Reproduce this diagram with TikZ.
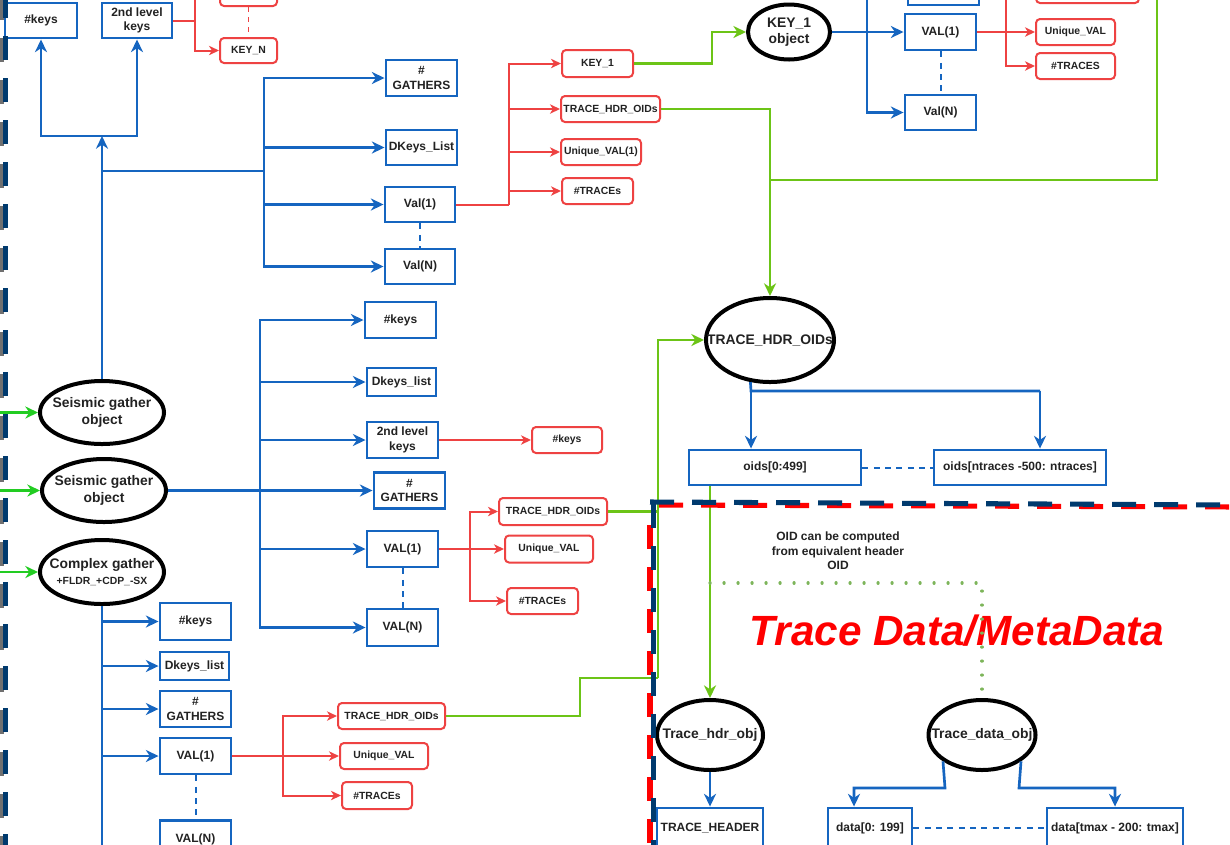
\documentclass[tikz,border=0pt]{standalone}
\usepackage{fontspec}
\setmainfont{Liberation Sans}
\usetikzlibrary{shapes.geometric,arrows.meta}
\definecolor{cblue}{HTML}{1565C0}
\definecolor{cred}{HTML}{EE4242}
\definecolor{cgreen}{HTML}{6CC417}
\definecolor{cgreenL}{HTML}{22CC22}
\definecolor{cdot}{HTML}{7DB55A}
\definecolor{cnavy}{HTML}{003A6E}
\definecolor{ctext}{HTML}{222222}
\definecolor{cshadow}{HTML}{707070}

\tikzset{
  sz/.style 2 args={minimum width={#1*0.75pt},minimum height={#2*0.75pt}},
  bbox/.style={draw=cblue,line width=2.2pt,fill=white,inner sep=0pt,align=center,text=ctext},
  rbox/.style={draw=cred,line width=1.5pt,rounded corners=3pt,fill=white,inner sep=0pt,align=center,text=ctext,
    font=\fontsize{7.8}{9.4}\selectfont\bfseries},
  ell/.style={draw=black,line width=3pt,ellipse,fill=white,inner sep=0pt},
  etxt/.style={align=center,text=ctext,inner sep=0pt,font=\fontsize{10.4}{12.5}\selectfont\bfseries},
  bline/.style={draw=cblue,line width=2pt},
  barr/.style={bline,-{Stealth[length=9.5pt,width=9pt,inset=3pt]}},
  bdash/.style={draw=cblue,line width=1.5pt,dash pattern=on 4.5pt off 4pt},
  rline/.style={draw=cred,line width=1.5pt},
  rarr/.style={rline,-{Stealth[length=7.5pt,width=7pt,inset=2.2pt]}},
  rdash/.style={draw=cred,line width=1.3pt,dash pattern=on 4pt off 3.5pt},
  gline/.style={draw=cgreen,line width=2.1pt},
  garr/.style={gline,-{Stealth[length=9.5pt,width=9pt,inset=3pt]}},
  garrL/.style={draw=cgreenL,line width=2.1pt,-{Stealth[length=9.5pt,width=9pt,inset=3pt]}},
  gdot/.style={draw=cdot,line width=2.4pt,line cap=round,dash pattern=on 0.1pt off 10.4pt},
  navydash/.style={draw=cnavy,line width=3.8pt,dash pattern=on 18pt off 13.5pt},
  reddash/.style={draw=red,line width=3.8pt,dash pattern=on 18pt off 13.5pt},
}

\begin{document}
\begin{tikzpicture}[x=0.75pt,y=-0.75pt,font=\fontsize{9}{10.8}\selectfont\bfseries]
\useasboundingbox (0,0) rectangle (1230,844);
\fill[white] (0,0) rectangle (1230,844);
\clip (0,0) rectangle (1230,844);

% ---------- upper-left: keys of the first gather ----------
\node[bbox,sz={72}{35}] (k1) at (41,20.5) {\#keys};
\node[bbox,sz={70}{35}] (k2) at (137,20.5) {2nd level\\keys};
\node[rbox,sz={57}{31}] (rtop) at (248.5,-9.5) {};
\node[rbox,sz={57}{25}] (keyN) at (248.5,50.5) {KEY\_N};

\node[bbox,sz={71}{36}] (gat1) at (421.5,78) {\#\\GATHERS};
\node[bbox,sz={71}{35}] (dkl) at (421.5,147.5) {DKeys\_List};
\node[bbox,sz={70}{35}] (val1a) at (420,204.5) {Val(1)};
\node[bbox,sz={70}{35}] (valNa) at (420,266.5) {Val(N)};

\node[rbox,sz={71}{27}] (key1) at (597.5,63.5) {KEY\_1};
\node[rbox,sz={99}{26}] (tho1) at (610.5,109) {TRACE\_HDR\_OIDs};
\node[rbox,sz={80}{26}] (uv1) at (601,152) {Unique\_VAL(1)};
\node[rbox,sz={71}{26}] (tr1) at (597.5,191) {\#TRACEs};

% ---------- KEY_1 object ----------
\node[ell,sz={82}{55},label={[etxt]center:{KEY\_1\\object}}] (ko) at (789,32) {};
\node[bbox,sz={71}{35}] (tv0) at (943.5,-12.5) {};
\node[bbox,sz={71}{36}] (val1b) at (940.5,32) {VAL(1)};
\node[bbox,sz={71}{35}] (valNb) at (940.5,112.5) {Val(N)};
\node[rbox,sz={103}{28}] (rt0) at (1087.5,-11) {};
\node[rbox,sz={79}{26}] (uvb) at (1075.5,32) {Unique\_VAL};
\node[rbox,sz={79}{26}] (trb) at (1075.5,66) {\#TRACES};

% ---------- trace header OIDs ----------
\node[ell,sz={128}{84},label={[etxt]center:TRACE\_HDR\_OIDs}] (tho) at (770,340) {};
\node[bbox,sz={172}{35}] (oidsA) at (775,467.5) {oids[0:499]};
\node[bbox,sz={172}{35}] (oidsB) at (1020,467.5) {oids[ntraces -500: ntraces]};

% ---------- gather objects ----------
\node[ell,sz={124}{63},label={[etxt]center:{Seismic gather\\object}}] (sg1) at (102,412.5) {};
\node[ell,sz={124}{63},label={[etxt]center:{Seismic gather\\object}}] (sg2) at (104,490.5) {};
\node[ell,sz={124}{64},label={[etxt]center:{Complex gather\\{\fontsize{7.8}{9}\selectfont +FLDR\_+CDP\_-SX}}}] (cg) at (102,572) {};

\node[bbox,sz={71}{36}] (mk) at (400.5,320) {\#keys};
\node[bbox,sz={69}{28}] (mdk) at (401.5,382) {Dkeys\_list};
\node[bbox,sz={71}{36}] (m2k) at (402.5,440) {2nd level\\keys};
\node[bbox,sz={71}{36}] (mgat) at (409.5,490.5) {\#\\GATHERS};
\node[bbox,sz={71}{36}] (mval1) at (402.5,549) {VAL(1)};
\node[bbox,sz={71}{37}] (mvalN) at (402.5,627.5) {VAL(N)};
\node[rbox,sz={70}{26}] (rk) at (567,440) {\#keys};
\node[rbox,sz={108}{27}] (mtho) at (553,511.5) {TRACE\_HDR\_OIDs};
\node[rbox,sz={88}{27}] (muv) at (549,549) {Unique\_VAL};
\node[rbox,sz={71}{26}] (mtr) at (542.5,601) {\#TRACEs};

\node[bbox,sz={71}{37}] (bk) at (195.5,621.5) {\#keys};
\node[bbox,sz={69}{28}] (bdk) at (194.5,666) {Dkeys\_list};
\node[bbox,sz={71}{36}] (bgat) at (195.5,709) {\#\\GATHERS};
\node[bbox,sz={71}{36}] (bval1) at (195.5,756) {VAL(1)};
\node[bbox,sz={71}{37}] (bvalN) at (195.5,839) {VAL(N)};
\node[rbox,sz={107}{26}] (btho) at (391.5,716) {TRACE\_HDR\_OIDs};
\node[rbox,sz={88}{26}] (buv) at (384,756) {Unique\_VAL};
\node[rbox,sz={70}{27}] (btr) at (377,795.5) {\#TRACEs};

% ---------- trace data / metadata ----------
\node[ell,sz={106}{70},label={[etxt]center:Trace\_hdr\_obj}] (thobj) at (710,735) {};
\node[ell,sz={107}{70},label={[etxt]center:Trace\_data\_obj}] (tdobj) at (982,735) {};
\node[bbox,sz={106}{40}] (thdr) at (710,828) {TRACE\_HEADER};
\node[bbox,sz={84}{40}] (d0) at (870,828) {data[0: 199]};
\node[bbox,sz={136}{40}] (d1) at (1115,828) {data[tmax - 200: tmax]};
\node[align=center,text=ctext] (note) at (838,551) {OID can be computed\\from equivalent header\\OID};
\node[text=red,font=\fontsize{31.7}{36}\selectfont\bfseries\itshape] (title) at (957,631) {Trace Data/MetaData};

% ---------- connectors: first gather ----------
\coordinate (j1) at (102,136);
\draw[barr] (sg1.north) -- (j1);
\draw[barr] (j1) -| (k1.south);
\draw[barr] (j1) -| (k2.south);
\coordinate (j2) at (102,171);
\coordinate (j3) at (264,171);
\draw[bline] (j2) -- (j3);
\draw[barr] (j3) |- (gat1.west);
\draw[barr] (j3) |- (dkl.west);
\draw[barr] (j3) |- (val1a.west);
\draw[barr] (j3) |- (valNa.west);
\draw[bdash] (val1a.south) -- (valNa.north);

\coordinate (r1) at (195,20.5);
\draw[rline] (k2.east) -- (r1);
\draw[rarr] (r1) |- (rtop.west);
\draw[rarr] (r1) |- (keyN.west);
\draw[rdash] (rtop.south) -- (keyN.north);

\coordinate (r2) at (509,204.5);
\draw[rline] (val1a.east) -- (r2);
\draw[rarr] (r2) |- (key1.west);
\draw[rarr] (r2) |- (tho1.west);
\draw[rarr] (r2) |- (uv1.west);
\draw[rarr] (r2) |- (tr1.west);

\coordinate (g1) at (712,48);
\draw[garr] (key1.east) -| (g1) |- (ko.west);
\draw[garr] (tho1.east) -| (tho.north);
\coordinate (gtop) at (1157,-10);
\coordinate (g3) at (770,180);
\draw[gline] (gtop) |- (g3);

% ---------- connectors: KEY_1 object ----------
\draw[barr] (ko.east) -- (val1b.west);
\coordinate (b1) at (867,32);
\draw[barr] (b1) |- (tv0.west);
\draw[barr] (b1) |- (valNb.west);
\draw[bdash] (val1b.south) -- (valNb.north);
\coordinate (r3) at (1006,32);
\draw[rarr] (val1b.east) -- (uvb.west);
\draw[rarr] (r3) |- (rt0.west);
\draw[rarr] (r3) |- (trb.west);

% ---------- incoming arrows on the left ----------
\coordinate (lft) at (-10,0);
\draw[garrL] (sg1.west -| lft) -- (sg1.west);
\draw[garrL] (sg2.west -| lft) -- (sg2.west);
\draw[garrL] (cg.west -| lft) -- (cg.west);

% ---------- connectors: second gather ----------
\coordinate (v2) at (260,490.5);
\draw[barr] (sg2.east) -- (mgat.west);
\draw[barr] (v2) |- (mk.west);
\draw[barr] (v2) |- (mdk.west);
\draw[barr] (v2) |- (m2k.west);
\draw[barr] (v2) |- (mval1.west);
\draw[barr] (v2) |- (mvalN.west);
\draw[bdash] (mval1.south) -- (mvalN.north);
\draw[rarr] (m2k.east) -- (rk.west);
\coordinate (r4) at (470,549);
\draw[rarr] (mval1.east) -- (muv.west);
\draw[rarr] (r4) |- (mtho.west);
\draw[rarr] (r4) |- (mtr.west);

% ---------- connectors: complex gather ----------
\coordinate (bbot) at (102,870);
\draw[bline] (cg.south) -- (bbot);
\draw[barr] (cg.south) |- (bk.west);
\draw[barr] (cg.south) |- (bdk.west);
\draw[barr] (cg.south) |- (bgat.west);
\draw[barr] (cg.south) |- (bval1.west);
\draw[bdash] (bval1.south) -- (bvalN.north);
\coordinate (r5) at (283,756);
\draw[rarr] (bval1.east) -- (buv.west);
\draw[rarr] (r5) |- (btho.west);
\draw[rarr] (r5) |- (btr.west);

% ---------- header OIDs feeding the OID object ----------
\coordinate (g5) at (580,678);
\coordinate (g6) at (658,678);
\draw[gline] (btho.east) -| (g5) -- (g6);
\draw[garr] (g6) |- (tho.west);
\draw[gline] (mtho.east) -- (mtho.east -| g6);

\coordinate (t1) at (751,391);
\coordinate (t2) at (1040,391);
\draw[bline] (tho.245) -- (t1) -- (t2);
\draw[barr] (t1) -- (t1 |- oidsA.north);
\draw[barr] (t2) -- (t2 |- oidsB.north);
\draw[bdash] (oidsA.east) -- (oidsB.west);

\draw[garr] (oidsA.south -| thobj.north) -- (thobj.north);
\coordinate (dg) at (710,583);
\draw[gdot] (dg) -| (tdobj.north);

\draw[barr] (thobj.south) -- (thdr.north);
\coordinate (t3) at (945,788);
\coordinate (t4) at (854,788);
\coordinate (t5) at (1019,788);
\coordinate (t6) at (1115,788);
\draw[barr] (tdobj.214) -- (t3) -- (t4) -- (t4 |- d0.north);
\draw[barr] (tdobj.326) -- (t5) -- (t6) -- (t6 |- d1.north);
\draw[bdash] (d0.east) -- (d1.west);

% ---------- region borders ----------
\coordinate (hA) at (650,502);
\coordinate (hB) at (1240,505);
\coordinate (hC) at (659,505);
\coordinate (hD) at (1240,507);
\draw[reddash] (hC) -- (hD);
\draw[navydash] (hA) -- (hB);
\coordinate (vA) at (650,525);
\coordinate (vB) at (650,870);
\coordinate (vC) at (653.5,504);
\coordinate (vD) at (653.5,870);
\draw[reddash] (vA) -- (vB);
\draw[navydash] (vC) -- (vD);

\coordinate (lA) at (2,-4);
\coordinate (lB) at (2,870);
\coordinate (lC) at (5.8,-6);
\coordinate (lD) at (5.8,870);
\draw[draw=cshadow,line width=3pt,dash pattern=on 18pt off 13.5pt] (lA) -- (lB);
\draw[navydash,line width=3.6pt] (lC) -- (lD);
\end{tikzpicture}
\end{document}
